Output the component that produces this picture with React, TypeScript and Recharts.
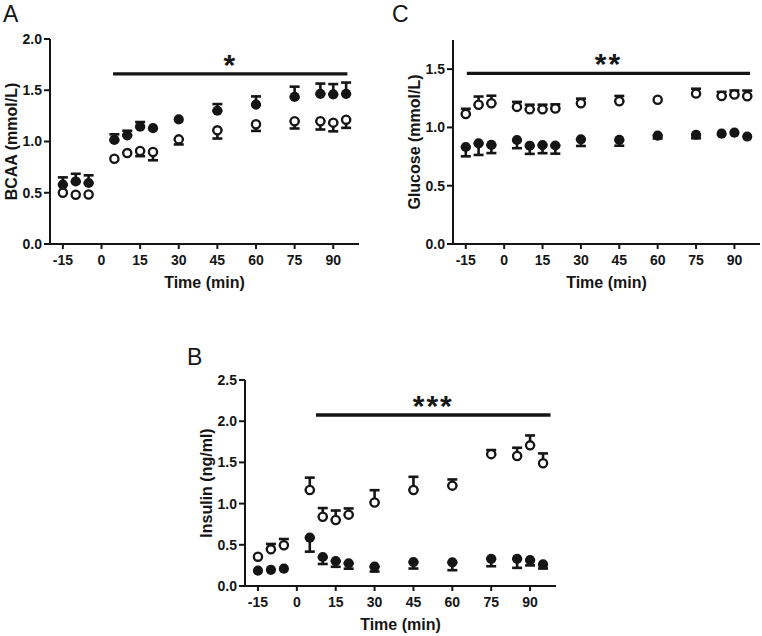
import React from 'react';
import {ErrorBar, ReferenceLine, Scatter, ScatterChart, XAxis, YAxis} from 'recharts';

const FONT = '"Liberation Sans", Arial, Helvetica, sans-serif';
const INK = '#151515';

const times = [-15, -10, -5, 5, 10, 15, 20, 30, 45, 60, 75, 85, 90, 95];
const timeTicks = [-15, 0, 15, 30, 45, 60, 75, 90];

// A: BCAA (mmol/L)
const bcaaTicks = [0, 0.5, 1, 1.5, 2];
const bcaaFilled = [0.58, 0.61, 0.595, 1.015, 1.06, 1.145, 1.13, 1.215, 1.3, 1.36, 1.435, 1.465, 1.46, 1.465];
const bcaaFilledErr = [0.07, 0.075, 0.075, 0.055, 0.045, 0.045, 0, 0, 0.065, 0.08, 0.1, 0.1, 0.1, 0.11];
const bcaaOpen = [0.5, 0.48, 0.483, 0.832, 0.887, 0.907, 0.897, 1.021, 1.109, 1.168, 1.197, 1.197, 1.184, 1.213];
const bcaaOpenErr = [0, 0, 0, 0, 0, 0.05, 0.08, 0.05, 0.08, 0.065, 0.07, 0.08, 0.085, 0.08];

// C: Glucose (mmol/L)
const glucoseTicks = [0, 0.5, 1, 1.5];
const glucoseOpen = [1.115, 1.195, 1.207, 1.176, 1.155, 1.155, 1.163, 1.207, 1.225, 1.238, 1.29, 1.27, 1.282, 1.268];
const glucoseOpenErr = [0.045, 0.07, 0.065, 0.043, 0.04, 0.04, 0.035, 0.04, 0.045, 0, 0.042, 0.035, 0.035, 0.048];
const glucoseFilled = [0.832, 0.864, 0.85, 0.892, 0.843, 0.849, 0.845, 0.898, 0.893, 0.93, 0.937, 0.946, 0.955, 0.922];
const glucoseFilledErr = [0.08, 0.1, 0.07, 0.07, 0.07, 0.07, 0.07, 0.057, 0.05, 0.025, 0.03, 0, 0, 0];

// B: Insulin (ng/ml)
const insulinTicks = [0, 0.5, 1, 1.5, 2, 2.5];
const insulinOpen = [0.356, 0.445, 0.495, 1.165, 0.841, 0.801, 0.866, 1.013, 1.165, 1.218, 1.6, 1.578, 1.707, 1.489];
const insulinOpenErr = [0, 0.065, 0.075, 0.15, 0.105, 0.115, 0.075, 0.15, 0.16, 0.075, 0.05, 0.1, 0.12, 0.12];
const insulinFilled = [0.186, 0.196, 0.21, 0.587, 0.352, 0.303, 0.275, 0.235, 0.29, 0.287, 0.33, 0.33, 0.315, 0.262];
const insulinFilledErr = [0, 0, 0, 0.17, 0.085, 0.07, 0.065, 0.06, 0.078, 0.095, 0.09, 0.11, 0.065, 0.05];

type Pt = {t: number; v: number; e: number};

const toPoints = (vals: number[], errs: number[]): Pt[] =>
  times.map((t, i) => ({t, v: vals[i], e: errs[i]}));

const errUp = (d: Pt) => (d.e ? [0, d.e] : undefined);
const errDown = (d: Pt) => (d.e ? [d.e, 0] : undefined);

// caps are 5px half-width, markers are wide enough to hide the cap drawn at the point itself
const filledDot = (p: any) => <circle cx={p.cx} cy={p.cy} r={5.1} fill={INK} />;
const openDot = (p: any) => (
  <circle cx={p.cx} cy={p.cy} r={4.1} fill="#fff" stroke={INK} strokeWidth={2.3} />
);

const tickStyle = {fill: INK, fontSize: 14, fontWeight: 'bold', fontFamily: FONT};

const xTitle = (props: any) => {
  const {viewBox} = props;
  return (
    <text
      x={viewBox.x + viewBox.width / 2}
      y={viewBox.y + 44}
      textAnchor="middle"
      fontSize={16}
      fontWeight="bold"
      fontFamily={FONT}
      fill={INK}>
      Time (min)
    </text>
  );
};

const yTitle = (label: string) => (props: any) => {
  const {viewBox} = props;
  const x = viewBox.x + viewBox.width - 33;
  const y = viewBox.y + viewBox.height / 2;
  return (
    <text
      x={x}
      y={y}
      transform={`rotate(-90, ${x}, ${y})`}
      textAnchor="middle"
      fontSize={16}
      fontWeight="bold"
      fontFamily={FONT}
      fill={INK}>
      {label}
    </text>
  );
};

const starLabel = (stars: string) => (props: any) => {
  const {viewBox} = props;
  return (
    <text
      x={viewBox.x + viewBox.width / 2}
      y={viewBox.y + 1}
      textAnchor="middle"
      fontSize={30}
      fontWeight="bold"
      fontFamily={FONT}
      letterSpacing={2}
      fill={INK}>
      {stars}
    </text>
  );
};

interface PanelProps {
  left: number;
  top: number;
  width: number;
  height: number;
  marginTop: number;
  marginRight: number;
  yWidth: number;
  xHeight: number;
  yMax: number;
  yTicks: number[];
  yLabel: string;
  filled: Pt[];
  open: Pt[];
  filledUp: boolean;
  sig: {x1: number; x2: number; y: number; stars: string};
}

function Panel(p: PanelProps) {
  return (
    <div style={{position: 'absolute', left: p.left, top: p.top}}>
      <ScatterChart
        width={p.width}
        height={p.height}
        margin={{top: p.marginTop, right: p.marginRight, bottom: 0, left: 0}}>
        <XAxis
          type="number"
          dataKey="t"
          domain={[-20, 100]}
          ticks={timeTicks}
          interval={0}
          height={p.xHeight}
          axisLine={{stroke: INK, strokeWidth: 2}}
          tickLine={{stroke: INK, strokeWidth: 2}}
          tickSize={5}
          tickMargin={6}
          tick={tickStyle}
          label={xTitle}
        />
        <YAxis
          type="number"
          dataKey="v"
          domain={[0, p.yMax]}
          ticks={p.yTicks}
          interval={0}
          width={p.yWidth}
          allowDataOverflow
          axisLine={{stroke: INK, strokeWidth: 2}}
          tickLine={{stroke: INK, strokeWidth: 2}}
          tickSize={6}
          tickMargin={2}
          tick={tickStyle}
          tickFormatter={(v: number) => v.toFixed(1)}
          label={yTitle(p.yLabel)}
        />
        <ReferenceLine
          segment={[
            {x: p.sig.x1, y: p.sig.y},
            {x: p.sig.x2, y: p.sig.y},
          ]}
          stroke={INK}
          strokeWidth={3.3}
          label={starLabel(p.sig.stars)}
        />
        <Scatter data={p.filled} shape={filledDot} isAnimationActive={false}>
          <ErrorBar
            dataKey={p.filledUp ? errUp : errDown}
            direction="y"
            width={5}
            stroke={INK}
            strokeWidth={2.6}
          />
        </Scatter>
        <Scatter data={p.open} shape={openDot} isAnimationActive={false}>
          <ErrorBar
            dataKey={p.filledUp ? errDown : errUp}
            direction="y"
            width={5}
            stroke={INK}
            strokeWidth={2.6}
          />
        </Scatter>
      </ScatterChart>
    </div>
  );
}

export default function App() {
  const letter = {fontSize: 23, fontFamily: FONT, fill: INK};
  return (
    <div
      style={{
        position: 'absolute',
        left: 0,
        top: 0,
        width: 762,
        height: 636,
        background: '#fff',
        overflow: 'hidden',
      }}>
      <Panel
        left={0}
        top={0}
        width={380}
        height={300}
        marginTop={39}
        marginRight={21}
        yWidth={50}
        xHeight={56}
        yMax={2}
        yTicks={bcaaTicks}
        yLabel="BCAA (mmol/L)"
        filled={toPoints(bcaaFilled, bcaaFilledErr)}
        open={toPoints(bcaaOpen, bcaaOpenErr)}
        filledUp
        sig={{x1: 4.5, x2: 95.5, y: 1.66, stars: '*'}}
      />
      <Panel
        left={373}
        top={0}
        width={389}
        height={300}
        marginTop={40}
        marginRight={2}
        yWidth={80}
        xHeight={56}
        yMax={1.75}
        yTicks={glucoseTicks}
        yLabel="Glucose (mmol/L)"
        filled={toPoints(glucoseFilled, glucoseFilledErr)}
        open={toPoints(glucoseOpen, glucoseOpenErr)}
        filledUp={false}
        sig={{x1: -14.6, x2: 96.1, y: 1.464, stars: '**'}}
      />
      <Panel
        left={180}
        top={300}
        width={400}
        height={336}
        marginTop={80}
        marginRight={24}
        yWidth={65}
        xHeight={50}
        yMax={2.5}
        yTicks={insulinTicks}
        yLabel="Insulin (ng/ml)"
        filled={toPoints(insulinFilled, insulinFilledErr)}
        open={toPoints(insulinOpen, insulinOpenErr)}
        filledUp={false}
        sig={{x1: 7.4, x2: 97.9, y: 2.075, stars: '***'}}
      />
      <svg
        width={762}
        height={636}
        style={{position: 'absolute', left: 0, top: 0, pointerEvents: 'none'}}>
        <text x={3} y={22} {...letter}>A</text>
        <text x={392} y={22} {...letter}>C</text>
        <text x={187} y={365} {...letter}>B</text>
      </svg>
    </div>
  );
}
